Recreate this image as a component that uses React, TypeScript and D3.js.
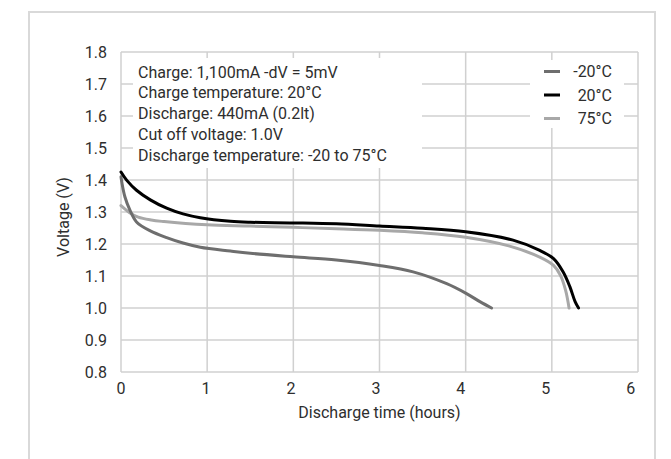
import React, { useRef, useEffect } from 'react';
import * as d3 from 'd3';

// discharge curves (hours, volts)
const timeM20 = [0, 0.01, 0.046, 0.105, 0.18, 0.34, 0.53, 0.72, 0.92, 1.27, 1.5, 2.0, 2.5, 3.0, 3.39, 3.78, 4.01, 4.17, 4.3];
const voltM20 = [1.41, 1.392, 1.347, 1.305, 1.269, 1.241, 1.22, 1.203, 1.19, 1.178, 1.171, 1.16, 1.15, 1.133, 1.113, 1.076, 1.045, 1.019, 1.0];

const time20 = [0, 0.07, 0.18, 0.34, 0.53, 0.72, 0.92, 1.27, 1.5, 2.0, 2.5, 3.0, 3.5, 4.0, 4.55, 4.86, 5.02, 5.13, 5.21, 5.27, 5.31];
const volt20 = [1.425, 1.398, 1.368, 1.338, 1.312, 1.294, 1.282, 1.271, 1.268, 1.266, 1.263, 1.256, 1.249, 1.238, 1.212, 1.18, 1.154, 1.113, 1.066, 1.02, 1.0];

const time75 = [0, 0.1, 0.2, 0.35, 0.5, 0.75, 1.0, 1.5, 2.0, 2.5, 3.0, 3.5, 4.0, 4.5, 4.86, 5.02, 5.1, 5.16, 5.2];
const volt75 = [1.32, 1.298, 1.284, 1.275, 1.27, 1.264, 1.26, 1.256, 1.252, 1.248, 1.243, 1.235, 1.221, 1.194, 1.159, 1.133, 1.102, 1.055, 1.0];

const seriesNames = ['-20°C', '20°C', '75°C'];
const seriesColors = ['#6e6e6e', '#000000', '#a8a8a8'];

const xTicks = [0, 1, 2, 3, 4, 5, 6];
const yTicks = [0.8, 0.9, 1.0, 1.1, 1.2, 1.3, 1.4, 1.5, 1.6, 1.7, 1.8];

const notes = [
    'Charge: 1,100mA -dV = 5mV',
    'Charge temperature: 20°C',
    'Discharge: 440mA (0.2lt)',
    'Cut off voltage: 1.0V',
    'Discharge temperature: -20 to 75°C',
];

const FONT = 'Roboto, "DejaVu Sans", sans-serif';
const TEXT = '#2e2e2e';
const GRID = '#d0d0d0';

const App: React.FC = () => {
    const ref = useRef<SVGSVGElement | null>(null);

    useEffect(() => {
        if (!ref.current) return;
        const W = 671, H = 459;
        const margin = { top: 52, right: 33, bottom: 87, left: 121 };
        const width = 638 - margin.left;
        const height = 372 - margin.top;

        const root = d3.select(ref.current);
        root.selectAll('*').remove();
        root.attr('width', W).attr('height', H);

        root.append('rect').attr('width', W).attr('height', H).attr('fill', '#fff');
        // outer frame
        root.append('rect')
            .attr('x', 29).attr('y', 12)
            .attr('width', 626).attr('height', 470)
            .attr('fill', 'none').attr('stroke', '#d9d9d9').attr('stroke-width', 2);

        const g = root.append('g').attr('transform', `translate(${margin.left},${margin.top})`);

        const x = d3.scaleLinear().domain([0, 6]).range([0, width]);
        const y = d3.scaleLinear().domain([0.8, 1.8]).range([height, 0]);

        // grid
        g.selectAll('.vgrid').data(xTicks).join('line')
            .attr('x1', d => x(d)).attr('x2', d => x(d))
            .attr('y1', 0).attr('y2', height)
            .attr('stroke', GRID).attr('stroke-width', 1.5);
        g.selectAll('.hgrid').data(yTicks).join('line')
            .attr('x1', 0).attr('x2', width)
            .attr('y1', d => y(d)).attr('y2', d => y(d))
            .attr('stroke', GRID).attr('stroke-width', 1.5);

        // white boxes behind notes and legend
        g.append('rect').attr('x', 12).attr('y', 6).attr('width', 289).attr('height', 110).attr('fill', '#fff');
        g.append('rect').attr('x', 409).attr('y', 8).attr('width', 94).attr('height', 68).attr('fill', '#fff');

        // tick labels
        g.selectAll('.ylab').data(yTicks).join('text')
            .attr('x', -14).attr('y', d => y(d)).attr('dy', '0.35em')
            .attr('text-anchor', 'end')
            .attr('font-family', FONT).attr('font-size', 16).attr('fill', TEXT)
            .text(d => d.toFixed(1));
        g.selectAll('.xlab').data(xTicks).join('text')
            .attr('x', d => x(d) - d * 1.2).attr('y', height + 16).attr('dy', '0.35em')
            .attr('text-anchor', 'middle')
            .attr('font-family', FONT).attr('font-size', 16).attr('fill', TEXT)
            .text(d => String(d));

        // axis titles
        g.append('text')
            .attr('x', width / 2).attr('y', height + 40).attr('dy', '0.35em')
            .attr('text-anchor', 'middle')
            .attr('font-family', FONT).attr('font-size', 16).attr('fill', TEXT)
            .text('Discharge time (hours)');
        g.append('text')
            .attr('transform', `translate(${63 - margin.left},${217 - margin.top}) rotate(-90)`)
            .attr('dy', '0.35em')
            .attr('text-anchor', 'middle')
            .attr('font-family', FONT).attr('font-size', 16).attr('fill', TEXT)
            .text('Voltage (V)');

        // notes
        g.selectAll('.note').data(notes).join('text')
            .attr('x', 17).attr('y', (_, i) => 20 + i * 20.8).attr('dy', '0.35em')
            .attr('font-family', FONT).attr('font-size', 16).attr('fill', TEXT)
            .text(d => d);

        // curves
        const series = [
            { t: timeM20, v: voltM20 },
            { t: time20, v: volt20 },
            { t: time75, v: volt75 },
        ];
        const line = d3.line<[number, number]>()
            .x(d => x(d[0]))
            .y(d => y(d[1]))
            .curve(d3.curveCatmullRom.alpha(0.5));
        // draw 75 first, then -20, then 20 on top
        [2, 0, 1].forEach(i => {
            const pts = series[i].t.map((t, j) => [t, series[i].v[j]] as [number, number]);
            g.append('path')
                .attr('d', line(pts))
                .attr('fill', 'none')
                .attr('stroke', seriesColors[i])
                .attr('stroke-width', 3)
                .attr('stroke-linejoin', 'round')
                .attr('stroke-linecap', 'round');
        });

        // legend
        seriesNames.forEach((name, i) => {
            const ly = 19.5 + i * 23.5;
            g.append('line')
                .attr('x1', 423).attr('x2', 439)
                .attr('y1', ly).attr('y2', ly)
                .attr('stroke', seriesColors[i]).attr('stroke-width', 3);
            g.append('text')
                .attr('x', 491).attr('y', ly).attr('dy', '0.35em')
                .attr('text-anchor', 'end')
                .attr('font-family', FONT).attr('font-size', 16).attr('fill', TEXT)
                .text(name);
        });
    }, []);

    return (
        <div style={{ position: 'absolute', left: 0, top: 0 }}>
            <svg ref={ref} style={{ display: 'block' }} />
        </div>
    );
};

export default App;
